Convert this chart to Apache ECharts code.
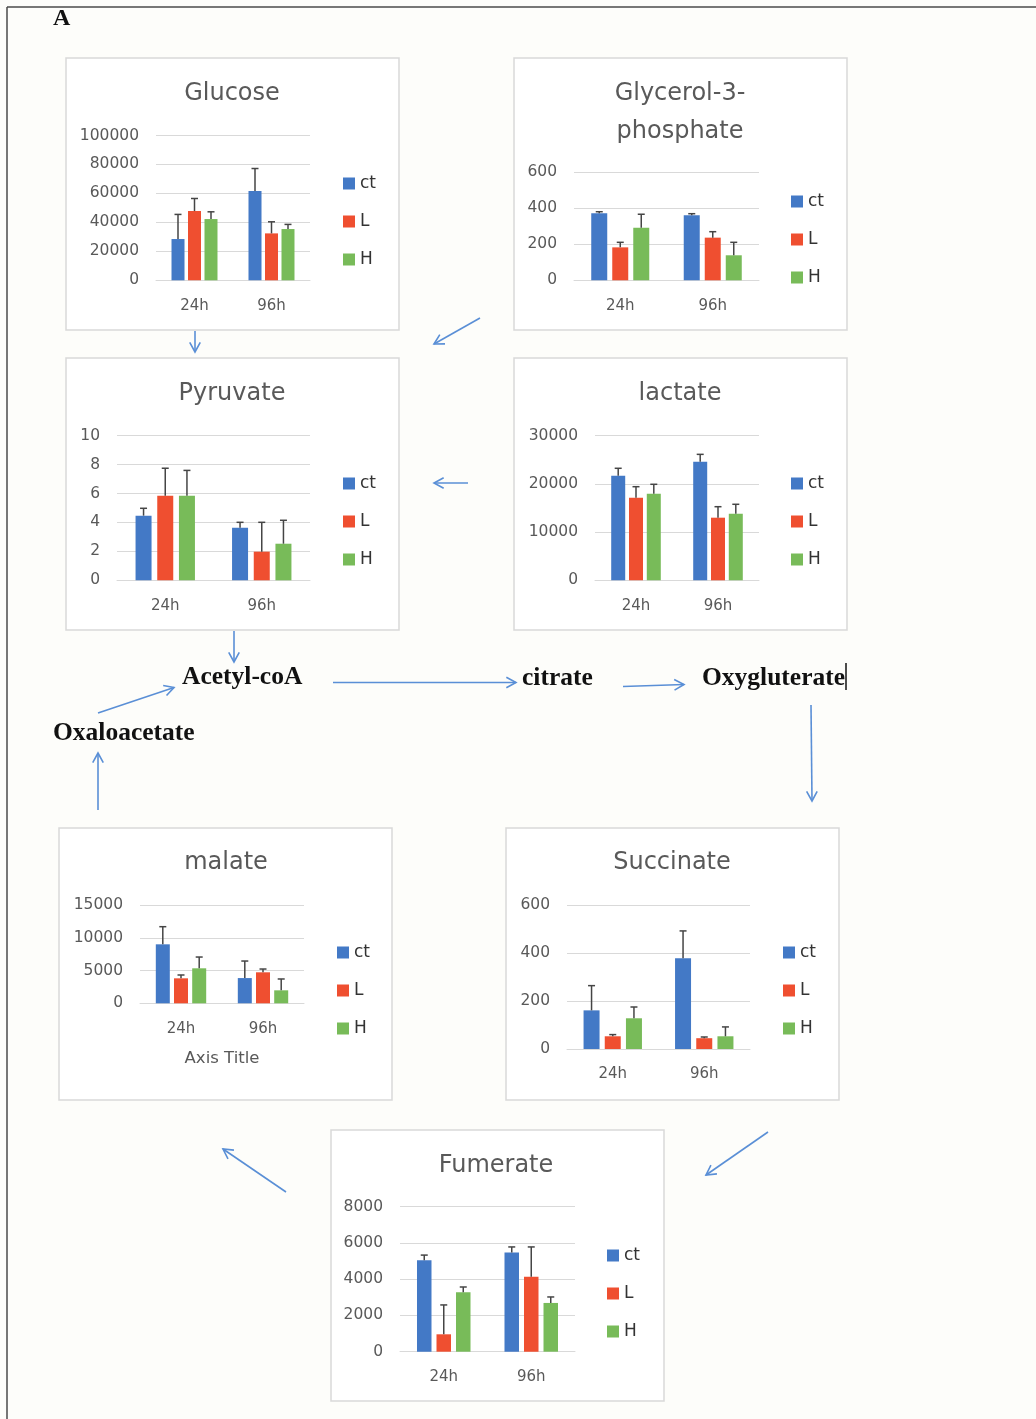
<!DOCTYPE html>
<html>
<head>
<meta charset="utf-8">
<script src="https://cdn.jsdelivr.net/npm/echarts@6/dist/echarts.min.js"></script>
<style>
  html, body { margin: 0; padding: 0; background: #fdfdfa; }
  #chart { width: 1036px; height: 1419px; }
</style>
</head>
<body>
<div id="chart"></div>
<script>
// ---- data ----
const categories = ['24h', '96h'];
const groups = ['ct', 'L', 'H'];

const glucoseCt = [28500, 61600];
const glucoseL = [47800, 32400];
const glucoseH = [42300, 35400];
const glucoseErrCt = [17000, 15600];
const glucoseErrL = [8700, 8000];
const glucoseErrH = [5000, 3200];

const glycerolCt = [372, 361];
const glycerolL = [183, 237];
const glycerolH = [292, 139];
const glycerolErrCt = [9, 9];
const glycerolErrL = [28, 33];
const glycerolErrH = [75, 72];

const pyruvateCt = [4.47, 3.64];
const pyruvateL = [5.85, 1.98];
const pyruvateH = [5.85, 2.53];
const pyruvateErrCt = [0.51, 0.37];
const pyruvateErrL = [1.9, 2.03];
const pyruvateErrH = [1.75, 1.62];

const lactateCt = [21700, 24600];
const lactateL = [17140, 12990];
const lactateH = [17970, 13820];
const lactateErrCt = [1540, 1530];
const lactateErrL = [2280, 2280];
const lactateErrH = [1950, 1950];

const malateCt = [9000, 3850];
const malateL = [3810, 4730];
const malateH = [5340, 1980];
const malateErrCt = [2690, 2600];
const malateErrL = [510, 500];
const malateErrH = [1720, 1730];

const succinateCt = [161, 378];
const succinateL = [53, 45];
const succinateH = [128, 53];
const succinateErrCt = [103, 114];
const succinateErrL = [7, 5];
const succinateErrH = [47, 39];

const fumerateCt = [5040, 5480];
const fumerateL = [960, 4140];
const fumerateH = [3280, 2690];
const fumerateErrCt = [290, 300];
const fumerateErrL = [1620, 1640];
const fumerateErrH = [290, 330];

// ---- styling ----
const FONT = 'DejaVu Sans';
const SERIF = 'Liberation Serif';
const groupColors = ['#4379c6', '#ef4f30', '#78bb59'];
const gridColor = '#d9d9d9';
const labelColor = '#595959';
const arrowColor = '#5a8fd6';

// each panel: frame box, plot rectangle [x0, y0, x1, y1], title centre, legend corner
const panels = [
  { name: 'Glucose', box: [66, 58, 333, 272], plot: [156, 135.5, 310, 280.3], titleAt: [232, 94],
    legendAt: [343, 175], yMax: 100000, yStep: 20000, barWidth: 13, pitch: 16.5,
    values: [glucoseCt, glucoseL, glucoseH], errors: [glucoseErrCt, glucoseErrL, glucoseErrH] },
  { name: 'Glycerol-3-\nphosphate', box: [514, 58, 333, 272], plot: [574, 172.3, 759, 280.3], titleAt: [680, 113],
    legendAt: [791, 193], yMax: 600, yStep: 200, barWidth: 16, pitch: 21,
    values: [glycerolCt, glycerolL, glycerolH], errors: [glycerolErrCt, glycerolErrL, glycerolErrH] },
  { name: 'Pyruvate', box: [66, 358, 333, 272], plot: [117, 435.7, 310, 580.3], titleAt: [232, 394],
    legendAt: [343, 475], yMax: 10, yStep: 2, barWidth: 16, pitch: 21.7,
    values: [pyruvateCt, pyruvateL, pyruvateH], errors: [pyruvateErrCt, pyruvateErrL, pyruvateErrH] },
  { name: 'lactate', box: [514, 358, 333, 272], plot: [595, 435.7, 759, 580.3], titleAt: [680, 394],
    legendAt: [791, 475], yMax: 30000, yStep: 10000, barWidth: 14, pitch: 17.8,
    values: [lactateCt, lactateL, lactateH], errors: [lactateErrCt, lactateErrL, lactateErrH] },
  { name: 'malate', box: [59, 828, 333, 272], plot: [140, 905, 304, 1003.3], titleAt: [226, 863],
    legendAt: [337, 944], yMax: 15000, yStep: 5000, barWidth: 14, pitch: 18.2, axisName: 'Axis Title',
    values: [malateCt, malateL, malateH], errors: [malateErrCt, malateErrL, malateErrH] },
  { name: 'Succinate', box: [506, 828, 333, 272], plot: [567, 905, 750, 1049], titleAt: [672, 863],
    legendAt: [783, 944], yMax: 600, yStep: 200, barWidth: 16, pitch: 21.2,
    values: [succinateCt, succinateL, succinateH], errors: [succinateErrCt, succinateErrL, succinateErrH] },
  { name: 'Fumerate', box: [331, 1130, 333, 271], plot: [400, 1206.7, 575, 1351.7], titleAt: [496, 1166],
    legendAt: [607, 1247], yMax: 8000, yStep: 2000, barWidth: 14.5, pitch: 19.5,
    values: [fumerateCt, fumerateL, fumerateH], errors: [fumerateErrCt, fumerateErrL, fumerateErrH] }
];

// pathway arrows: [x1, y1, x2, y2], head at the second point
const arrows = [
  [195, 331, 195, 352],
  [480, 318, 434, 344],
  [468, 483, 434, 483],
  [234, 631, 234, 662],
  [333, 682.5, 516, 682.5],
  [623, 686.5, 684, 684.5],
  [811, 705, 812, 801],
  [768, 1132, 706, 1175],
  [286, 1192, 223, 1149],
  [98, 810, 98, 753],
  [98, 713, 174, 687.5]
];

// metabolite names between the panels
const pathwayLabels = [
  { text: 'Acetyl-coA', x: 182, y: 677 },
  { text: 'citrate', x: 522, y: 678 },
  { text: 'Oxygluterate', x: 702, y: 678 },
  { text: 'Oxaloacetate', x: 53, y: 733 }
];

// ---- build option ----
const grid = [], xAxis = [], yAxis = [], legend = [], series = [], graphic = [];

graphic.push({ type: 'line', shape: { x1: 7, y1: 7, x2: 1036, y2: 7 }, style: { stroke: '#4a4a4a', lineWidth: 1.5 }, z: 10 });
graphic.push({ type: 'line', shape: { x1: 7, y1: 7, x2: 7, y2: 1419 }, style: { stroke: '#4a4a4a', lineWidth: 1.5 }, z: 10 });
graphic.push({ type: 'text', x: 53, y: 19, style: { text: 'A', fontFamily: SERIF, fontWeight: 'bold', fontSize: 24, fill: '#111', verticalAlign: 'middle' }, z: 10 });

panels.forEach((p, k) => {
  const [x0, y0, x1, y1] = p.plot;
  graphic.push({ type: 'rect', z: -10, shape: { x: p.box[0], y: p.box[1], width: p.box[2], height: p.box[3] },
    style: { fill: '#ffffff', stroke: gridColor, lineWidth: 1.5 } });
  graphic.push({ type: 'text', z: 10, x: p.titleAt[0], y: p.titleAt[1],
    style: { text: p.name, fontFamily: FONT, fontSize: 24, fill: labelColor, align: 'center', verticalAlign: 'middle', lineHeight: 38 } });

  grid.push({ left: x0, top: y0, width: x1 - x0, height: y1 - y0, containLabel: false });
  xAxis.push({
    type: 'category', gridIndex: k, data: categories,
    axisLine: { lineStyle: { color: gridColor, width: 1 } },
    axisTick: { show: false },
    axisLabel: { color: labelColor, fontFamily: FONT, fontSize: 15, margin: 18 },
    name: p.axisName || '', nameLocation: 'middle', nameGap: 47,
    nameTextStyle: { color: labelColor, fontFamily: FONT, fontSize: 16.5 }
  });
  yAxis.push({
    type: 'value', gridIndex: k, min: 0, max: p.yMax, interval: p.yStep,
    axisLine: { show: false }, axisTick: { show: false },
    splitLine: { lineStyle: { color: gridColor, width: 1 } },
    axisLabel: { color: labelColor, fontFamily: FONT, fontSize: 15.5, margin: 17, formatter: v => String(v) }
  });
  legend.push({
    data: groups, orient: 'vertical', left: p.legendAt[0], top: p.legendAt[1], padding: 0,
    icon: 'rect', itemWidth: 12, itemHeight: 12, itemGap: 21, selectedMode: false,
    textStyle: { color: '#333', fontFamily: FONT, fontSize: 17, lineHeight: 17 }
  });

  const gapPct = ((p.pitch - p.barWidth) / p.barWidth * 100).toFixed(1) + '%';
  groups.forEach((g, gi) => {
    series.push({
      name: g, type: 'bar', xAxisIndex: k, yAxisIndex: k,
      data: p.values[gi], barWidth: p.barWidth, barGap: gapPct,
      itemStyle: { color: groupColors[gi] }, silent: true
    });
  });
  // upper error bars, one per bar, offset to sit above their own bar
  groups.forEach((g, gi) => {
    const vals = p.values[gi], errs = p.errors[gi];
    const dx = (gi - 1) * p.pitch;
    series.push({
      type: 'custom', xAxisIndex: k, yAxisIndex: k, z: 5, silent: true,
      encode: { x: 0, y: [1, 2] },
      data: vals.map((v, i) => [i, v, v + errs[i]]),
      renderItem: (params, api) => {
        const base = api.coord([api.value(0), api.value(1)]);
        const top = api.coord([api.value(0), api.value(2)]);
        const x = base[0] + dx;
        const st = { stroke: '#454545', lineWidth: 1.5 };
        return { type: 'group', children: [
          { type: 'line', shape: { x1: x, y1: base[1], x2: x, y2: top[1] }, style: st },
          { type: 'line', shape: { x1: x - 3.5, y1: top[1], x2: x + 3.5, y2: top[1] }, style: st }
        ] };
      }
    });
  });
});

arrows.forEach(([xa, ya, xb, yb]) => {
  const a = Math.atan2(yb - ya, xb - xa), len = 11, s = 0.5;
  const h1 = [xb - len * Math.cos(a - s), yb - len * Math.sin(a - s)];
  const h2 = [xb - len * Math.cos(a + s), yb - len * Math.sin(a + s)];
  const st = { stroke: arrowColor, lineWidth: 1.6, fill: null };
  graphic.push({ type: 'line', z: 10, shape: { x1: xa, y1: ya, x2: xb, y2: yb }, style: st });
  graphic.push({ type: 'polyline', z: 10, shape: { points: [h1, [xb, yb], h2] }, style: st });
});

pathwayLabels.forEach(l => {
  graphic.push({ type: 'text', z: 10, x: l.x, y: l.y,
    style: { text: l.text, fontFamily: SERIF, fontWeight: 'bold', fontSize: 25.5, fill: '#111', verticalAlign: 'middle' } });
});
// text caret after the last name
graphic.push({ type: 'line', z: 10, shape: { x1: 846, y1: 663, x2: 846, y2: 690 }, style: { stroke: '#111', lineWidth: 1.5 } });

const chart = echarts.init(document.getElementById('chart'), null, { renderer: 'canvas' });
chart.setOption({
  backgroundColor: '#fdfdfa',
  animation: false,
  grid, xAxis, yAxis, legend, series, graphic
});
</script>
</body>
</html>
